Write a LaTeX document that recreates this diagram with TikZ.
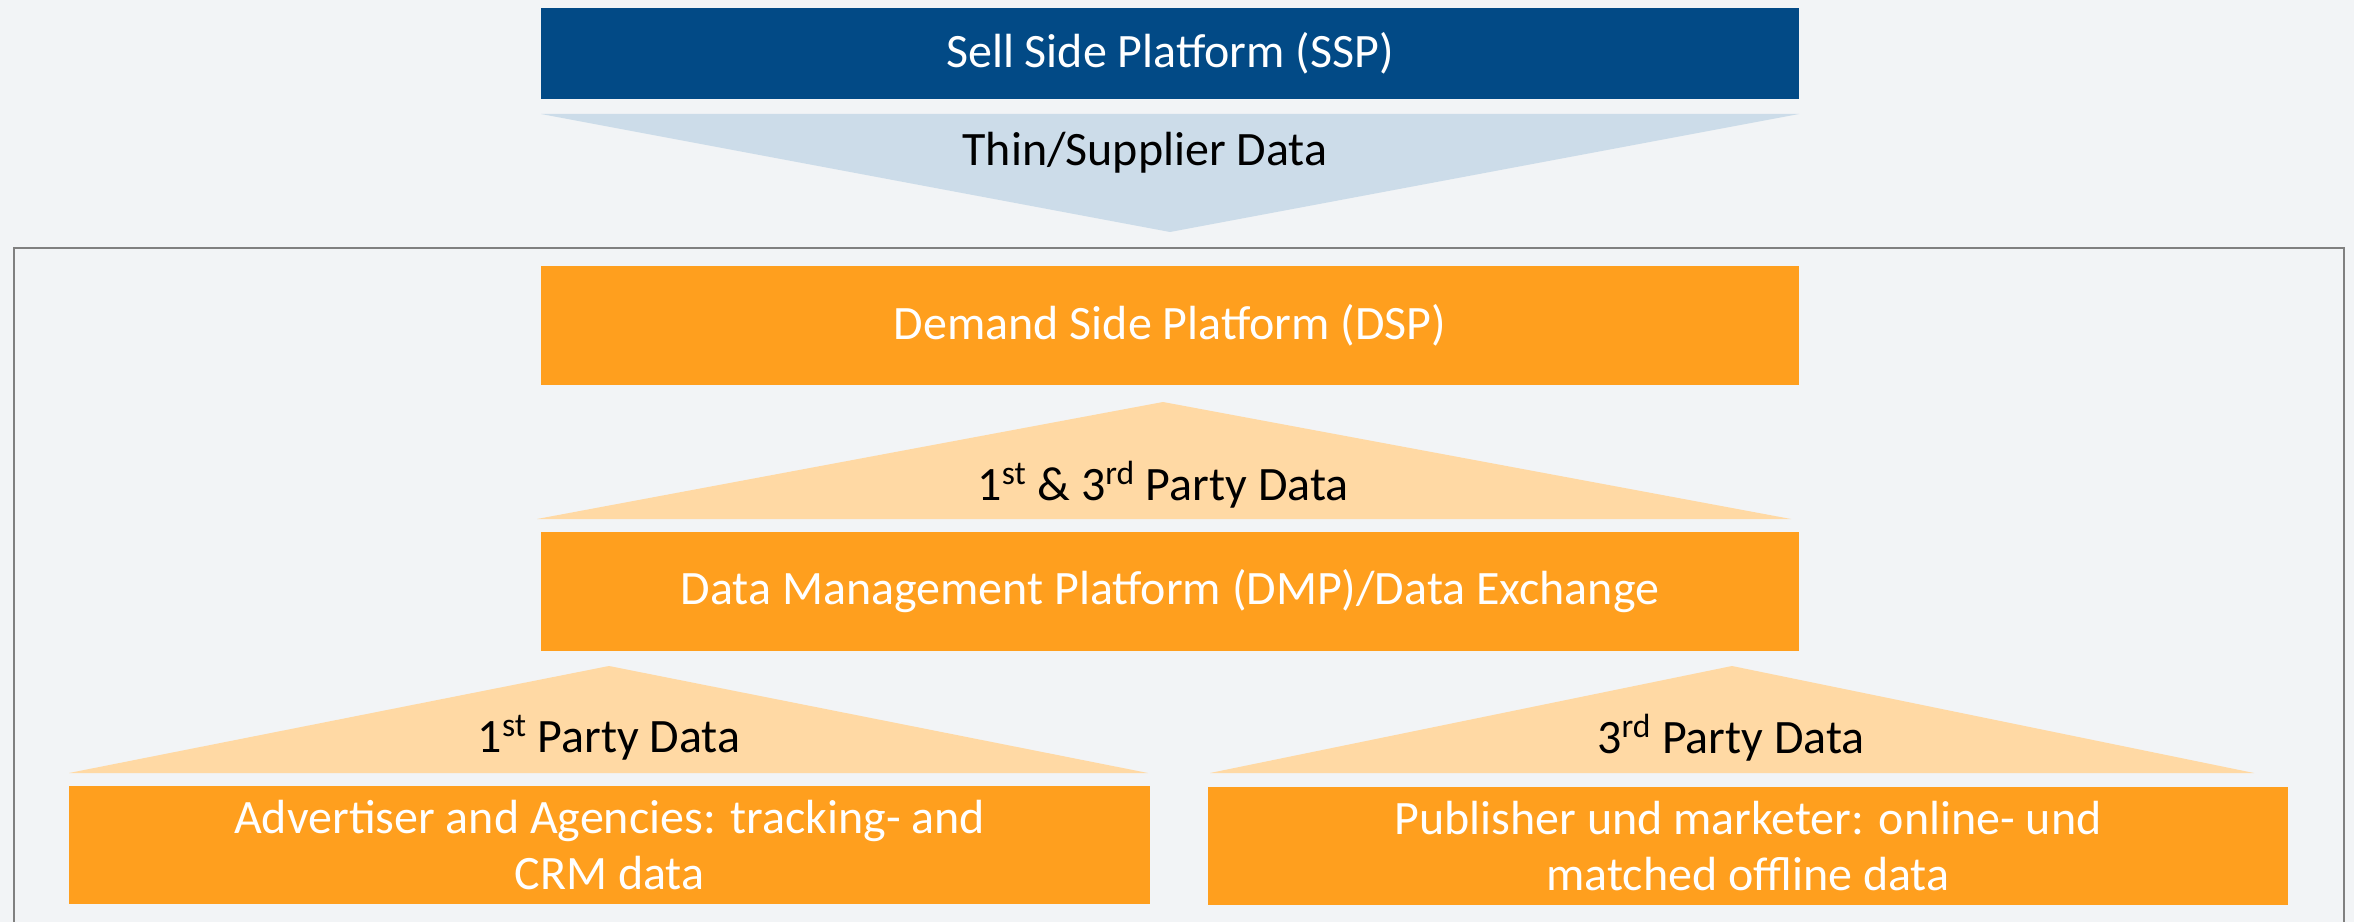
\documentclass[tikz,border=0pt]{standalone}
\usepackage{fontspec}
\setmainfont{Carlito}
\usetikzlibrary{positioning}
\definecolor{sspblue}{HTML}{024A86}
\definecolor{thinblue}{HTML}{CCDCE9}
\definecolor{boxorange}{HTML}{FF9F1E}
\definecolor{lightorange}{HTML}{FFD9A4}
\definecolor{bggray}{HTML}{F2F4F6}
\definecolor{framegray}{HTML}{808080}
\begin{document}
\begin{tikzpicture}[x=0.02cm,y=-0.02cm,
  platform/.style={rectangle, inner sep=0pt, text=white, align=center,
    font=\fontsize{27.3}{32}\selectfont},
  flowlabel/.style={inner sep=0pt, text=black, font=\fontsize{27.3}{32}\selectfont}]
\useasboundingbox (0,0) rectangle (2354,922);
\fill[bggray] (0,0) rectangle (2354,922);
% frame round the demand side
\draw[framegray, line width=1.1pt] (14,922) -- (14,248) -- (2344,248) -- (2344,922);
% platforms
\node (ssp) [platform, fill=sspblue, minimum width=25.16cm, minimum height=1.82cm] at (1170,53.5) {Sell Side Platform (SSP)};
\node (dsp) [platform, fill=boxorange, minimum width=25.16cm, minimum height=2.38cm] at (1170,325.5) {Demand Side Platform (DSP)};
\node (dmp) [platform, fill=boxorange, minimum width=25.16cm, minimum height=2.38cm] at (1170,591.5) {Data Management Platform (DMP)/Data Exchange};
\node (adv) [platform, fill=boxorange, minimum width=21.62cm, minimum height=2.36cm] at (609.5,845) {Advertiser and Agencies: tracking- and\\CRM data};
\node (pub) [platform, fill=boxorange, minimum width=21.6cm, minimum height=2.36cm] at (1748,846) {Publisher und marketer: online- und\\matched offline data};
% data flows
\fill[thinblue] (541,114) -- (1799,114) -- (1170,232) -- cycle;
\fill[lightorange] (537,519) -- (1791,519) -- (1163,402) -- cycle;
\fill[lightorange] (69,773) -- (1148,773) -- (609,666) -- cycle;
\fill[lightorange] (1210,773) -- (2254,773) -- (1732,666) -- cycle;
\node (thin) [flowlabel] at (1145,153) {Thin/Supplier Data};
\node (both) [flowlabel] at (1163,485) {1\textsuperscript{st} \& 3\textsuperscript{rd} Party Data};
\node (first) [flowlabel] at (609,738) {1\textsuperscript{st} Party Data};
\node (third) [flowlabel] at (1731,738) {3\textsuperscript{rd} Party Data};
\end{tikzpicture}
\end{document}
